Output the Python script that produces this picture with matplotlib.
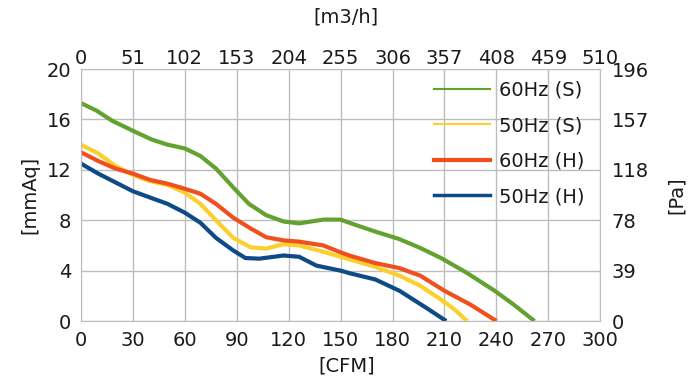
import numpy as np
import matplotlib
matplotlib.use("Agg")
import matplotlib.pyplot as plt
from matplotlib.lines import Line2D

plt.rcParams['font.family'] = ['DejaVu Sans']

# values: CFM -> mmAq
cfm_60s = [0, 9, 18, 30, 41, 50, 60, 69, 78, 88, 97, 107, 117, 126, 140, 150, 155, 170, 184, 196, 208, 222, 239, 250, 262]
mm_60s = [17.3, 16.7, 15.9, 15.1, 14.4, 14.0, 13.7, 13.1, 12.1, 10.6, 9.3, 8.4, 7.9, 7.75, 8.05, 8.05, 7.8, 7.1, 6.5, 5.8, 5.0, 3.9, 2.4, 1.3, 0.0]

cfm_50s = [0, 10, 20, 30, 40, 50, 60, 69, 78, 88, 98, 107, 117, 126, 140, 150, 155, 170, 184, 196, 208, 216, 223]
mm_50s = [14.0, 13.3, 12.3, 11.6, 11.1, 10.8, 10.2, 9.3, 8.0, 6.6, 5.85, 5.75, 6.1, 6.0, 5.5, 5.1, 4.9, 4.3, 3.6, 2.8, 1.7, 0.9, 0.0]

cfm_60h = [0, 10, 20, 30, 40, 50, 60, 69, 78, 88, 98, 107, 117, 126, 140, 150, 155, 170, 184, 196, 210, 225, 240]
mm_60h = [13.4, 12.7, 12.1, 11.7, 11.2, 10.9, 10.5, 10.1, 9.3, 8.2, 7.35, 6.65, 6.4, 6.3, 6.0, 5.45, 5.2, 4.6, 4.2, 3.6, 2.4, 1.3, 0.0]

cfm_50h = [0, 10, 20, 30, 40, 50, 60, 69, 78, 88, 95, 103, 117, 126, 136, 150, 155, 170, 184, 200, 211]
mm_50h = [12.5, 11.7, 11.0, 10.3, 9.8, 9.3, 8.6, 7.8, 6.6, 5.6, 5.0, 4.95, 5.2, 5.1, 4.4, 4.0, 3.8, 3.3, 2.4, 1.0, 0.0]

cfm_ticks = [0, 30, 60, 90, 120, 150, 180, 210, 240, 270, 300]
m3h_labels = ['0', '51', '102', '153', '204', '255', '306', '357', '408', '459', '510']
mm_ticks = [0, 4, 8, 12, 16, 20]
pa_labels = ['0', '39', '78', '118', '157', '196']

green = '#63a22f'
yellow = '#fcd02c'
red = '#f04f1f'
blue = '#0e4a86'
gridc = '#bdbdbd'
txt = '#1a1a1a'
fs = 14

fig = plt.figure(figsize=(6.98, 3.87), dpi=100)
ax = fig.add_axes([0.116, 0.1705, 0.744, 0.651])

ax.plot(cfm_60s, mm_60s, color=green, lw=3.0, solid_capstyle='butt')
ax.plot(cfm_50s, mm_50s, color=yellow, lw=3.0, solid_capstyle='butt')
ax.plot(cfm_60h, mm_60h, color=red, lw=3.0, solid_capstyle='butt')
ax.plot(cfm_50h, mm_50h, color=blue, lw=3.0, solid_capstyle='butt')

ax.set_xlim(0, 300)
ax.set_ylim(0, 20)
ax.set_xticks(cfm_ticks)
ax.set_yticks(mm_ticks)
ax.grid(True, color=gridc, lw=1.0)
ax.set_axisbelow(True)
for s in ax.spines.values():
    s.set_color(gridc)
ax.tick_params(length=0, labelsize=fs, colors=txt, pad=7)

top = ax.secondary_xaxis('top')
top.set_xticks(cfm_ticks)
top.set_xticklabels(m3h_labels)
top.tick_params(length=0, labelsize=fs, colors=txt, pad=1)
top.spines['top'].set_visible(False)

right = ax.secondary_yaxis('right')
right.set_yticks(mm_ticks)
right.set_yticklabels(pa_labels)
right.tick_params(length=0, labelsize=fs, colors=txt, pad=8)
right.spines['right'].set_visible(False)

# axis titles placed like the reference
fig.text(346 / 698, 1 - 17 / 387, '[m3/h]', fontsize=fs, color=txt, ha='center', va='center')
fig.text(347 / 698, 1 - 366 / 387, '[CFM]', fontsize=fs, color=txt, ha='center', va='center')
fig.text(30 / 698, 1 - 195 / 387, '[mmAq]', fontsize=fs, color=txt, ha='center', va='center', rotation=90)
fig.text(676 / 698, 1 - 195 / 387, '[Pa]', fontsize=fs, color=txt, ha='center', va='center', rotation=90)

handles = [Line2D([], [], color=green, lw=1.5),
           Line2D([], [], color=yellow, lw=1.5),
           Line2D([], [], color=red, lw=3.0),
           Line2D([], [], color=blue, lw=2.5)]
labels = ['60Hz (S)', '50Hz (S)', '60Hz (H)', '50Hz (H)']
leg = ax.legend(handles, labels, loc='upper right', bbox_to_anchor=(0.985, 0.985),
                frameon=False, fontsize=fs, handlelength=2.9, handletextpad=0.45,
                labelspacing=0.85, borderaxespad=0.0)
for t in leg.get_texts():
    t.set_color(txt)

fig.savefig('out.png', dpi=100)
